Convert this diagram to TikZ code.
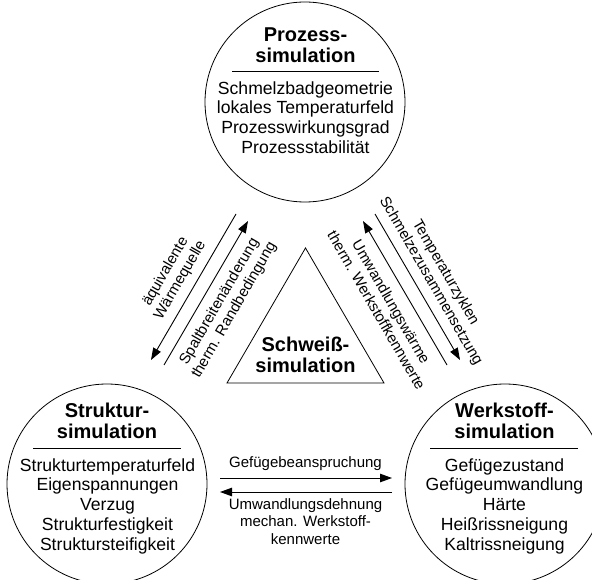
\documentclass[tikz,border=0pt]{standalone}
\usepackage{fontspec}
\setmainfont{Liberation Sans}
\usetikzlibrary{arrows.meta}
\begin{document}
\begin{tikzpicture}[x=1pt,y=-1pt,
  sim/.style={draw, circle, line width=0.8pt, minimum size=200pt, inner sep=0pt},
  ttl/.style={font=\fontsize{20}{21}\selectfont\bfseries, align=center, inner sep=0pt, anchor=north},
  body/.style={font=\fontsize{17.6}{19.8}\selectfont, align=center, inner sep=0pt, anchor=north},
  lbl/.style={font=\fontsize{15}{17}\selectfont, align=center, inner sep=0pt},
  sepline/.style={line width=0.7pt},
  flow/.style={line width=0.9pt, -{Triangle[length=12pt,width=8.5pt]}},
  tri/.style={line width=0.8pt},
]
\useasboundingbox (0,0) rectangle (592,580);

% circles
\node[sim] (proz) at (305,102) {};
\node[sim] (strukt) at (107,484) {};
\node[sim] (werk) at (505,484) {};

% Prozesssimulation
\node[ttl] (prozT) at (305.5,27.1) {Prozess-\\simulation};
\coordinate (prozA) at (232,71.5);
\coordinate (prozB) at (379,71.5);
\draw[sepline] (prozA) -- (prozB);
\node[body] (prozB1) at (305.5,81.1) {Schmelzbadgeometrie\\lokales Temperaturfeld\\Prozesswirkungsgrad\\Prozessstabilität};

% Struktursimulation
\node[ttl] (struktT) at (107,402.8) {Struktur-\\simulation};
\coordinate (struktA) at (33,448);
\coordinate (struktB) at (181,448);
\draw[sepline] (struktA) -- (struktB);
\node[body] (struktB1) at (107.5,458.1) {Strukturtemperaturfeld\\Eigenspannungen\\Verzug\\Strukturfestigkeit\\Struktursteifigkeit};

% Werkstoffsimulation
\node[ttl] (werkT) at (504.5,402.8) {Werkstoff-\\simulation};
\coordinate (werkA) at (430,448);
\coordinate (werkB) at (578,448);
\draw[sepline] (werkA) -- (werkB);
\node[body] (werkB1) at (504.5,458.1) {Gefügezustand\\Gefügeumwandlung\\Härte\\Heißrissneigung\\Kaltrissneigung};

% Schweisssimulation triangle
\coordinate (ta) at (305.5,248);
\coordinate (tl) at (227,383);
\coordinate (tr) at (384,383);
\draw[tri] (ta) -- (tl) -- (tr) -- cycle;
\node[ttl] (schwT) at (305.5,337.3) {Schweiß-\\simulation};

% left pair
\coordinate (l1s) at (236,214);
\coordinate (l1e) at (151,360);
\coordinate (l2s) at (164,365);
\coordinate (l2e) at (248,221);
\draw[flow] (l1s) -- (l1e);
\draw[flow] (l2s) -- (l2e);
\node[lbl, rotate=60] (lq) at (173,276) {äquivalente\\Wärmequelle};
\node[lbl, rotate=60] (lsp) at (227,306) {Spaltbreitenänderung\\therm. Randbedingung};

% right pair
\coordinate (r1s) at (375,214);
\coordinate (r1e) at (460,360);
\coordinate (r2s) at (447,365);
\coordinate (r2e) at (363,221);
\draw[flow] (r1s) -- (r1e);
\draw[flow] (r2s) -- (r2e);
\node[lbl, rotate=-60] (rt) at (438,277) {Temperaturzyklen\\Schmelzezusammensetzung};
\node[lbl, rotate=-60] (ru) at (384,306) {Umwandlungswärme\\therm. Werkstoffkennwerte};

% horizontal pair
\coordinate (h1s) at (220,478);
\coordinate (h1e) at (392,478);
\coordinate (h2s) at (392,492);
\coordinate (h2e) at (220,492);
\draw[flow] (h1s) -- (h1e);
\draw[flow] (h2s) -- (h2e);
\node[lbl, anchor=base] (hg) at (305.5,467) {Gefügebeanspruchung};
\node[lbl, anchor=north, font=\fontsize{15}{17.5}\selectfont] (hu) at (305.5,498.1) {Umwandlungsdehnung\\mechan. Werkstoff-\\kennwerte};
\end{tikzpicture}
\end{document}
